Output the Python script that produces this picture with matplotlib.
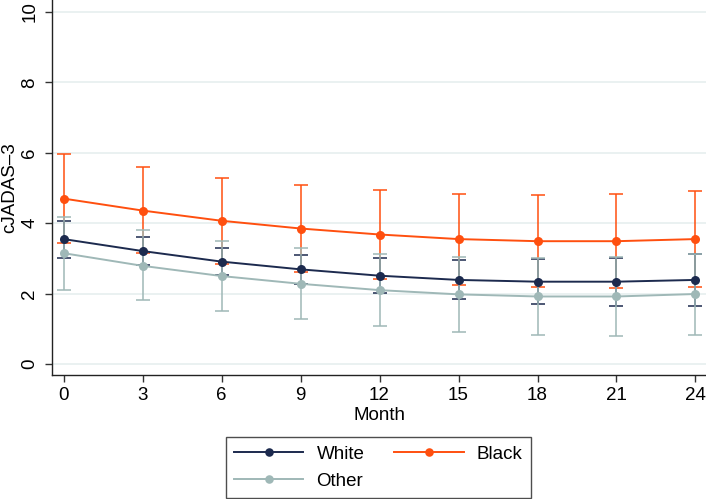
import matplotlib
matplotlib.use("Agg")
import matplotlib.pyplot as plt
import numpy as np

plt.rcParams['font.family'] = ['Liberation Sans', 'DejaVu Sans']

months = [0, 3, 6, 9, 12, 15, 18, 21, 24]

white_mean = [3.55, 3.21, 2.91, 2.69, 2.51, 2.39, 2.34, 2.34, 2.39]
white_lo   = [3.02, 2.81, 2.52, 2.27, 2.01, 1.84, 1.70, 1.66, 1.66]
white_hi   = [4.07, 3.61, 3.30, 3.11, 3.00, 2.95, 2.98, 3.02, 3.14]

black_mean = [4.70, 4.36, 4.07, 3.85, 3.68, 3.55, 3.49, 3.49, 3.55]
black_lo   = [3.43, 3.15, 2.85, 2.61, 2.41, 2.26, 2.18, 2.15, 2.18]
black_hi   = [5.97, 5.59, 5.29, 5.09, 4.94, 4.84, 4.80, 4.83, 4.92]

other_mean = [3.15, 2.79, 2.50, 2.28, 2.10, 1.98, 1.92, 1.92, 1.99]
other_lo   = [2.10, 1.81, 1.52, 1.28, 1.08, 0.92, 0.83, 0.80, 0.82]
other_hi   = [4.19, 3.80, 3.50, 3.29, 3.14, 3.05, 3.02, 3.05, 3.14]

yticks = [0, 2, 4, 6, 8, 10]
xticks = months

c_white = '#1c2a4e'
c_black = '#ff4f0f'
c_other = '#9fb8b7'

FS = 13.5

fig = plt.figure(figsize=(7.06, 4.99), dpi=100)
ax = fig.add_axes([0.0737, 0.2485, 0.9263, 0.7515])

series = [
    ('Black', black_mean, black_lo, black_hi, c_black),
    ('White', white_mean, white_lo, white_hi, c_white),
    ('Other', other_mean, other_lo, other_hi, c_other),
]
x = np.array(months)
for name, m, lo, hi, c in series:
    m = np.array(m); lo = np.array(lo); hi = np.array(hi)
    ax.errorbar(x, m, yerr=[m - lo, hi - m], fmt='none', ecolor=c,
                elinewidth=1.1, capsize=5, capthick=1.1, zorder=2)

handles = {}
for name, m, lo, hi, c in series:
    ln, = ax.plot(x, m, color=c, lw=1.4, marker='o', markersize=6.5,
                  markeredgewidth=0, zorder=3, label=name)
    handles[name] = ln

ax.set_xlim(-0.44, 24.4)
ax.set_ylim(-0.31, 10.34)
ax.set_xticks(xticks)
ax.set_yticks(yticks)
ax.tick_params(axis='both', labelsize=FS, direction='out', length=5,
               width=1, color='#333333')
ax.tick_params(axis='x', pad=4)
ax.tick_params(axis='y', labelrotation=90, pad=5)
for lbl in ax.get_yticklabels():
    lbl.set_va('center')
ax.yaxis.grid(True, color='#e8f0f0', lw=1.3)
ax.set_axisbelow(True)
for s in ['top', 'right']:
    ax.spines[s].set_visible(False)
for s in ['left', 'bottom']:
    ax.spines[s].set_color('#222222')
    ax.spines[s].set_linewidth(1.0)

ax.set_xlabel('Month', fontsize=FS, labelpad=2)
ax.set_ylabel('cJADAS\u20133', fontsize=FS)
ax.yaxis.set_label_coords(-0.051, 0.5)

leg = fig.legend([handles['White'], handles['Other'], handles['Black']],
                 ['White', 'Other', 'Black'],
                 loc='center', bbox_to_anchor=(0.536, 0.0627), ncol=2,
                 fontsize=FS, handlelength=3.7, handletextpad=0.7,
                 columnspacing=1.6, frameon=True, fancybox=False,
                 borderpad=0.45, labelspacing=0.5, markerscale=0.95,
                 borderaxespad=0)
leg.get_frame().set_edgecolor('#222222')
leg.get_frame().set_linewidth(1.0)

fig.savefig('out.png', dpi=100)
